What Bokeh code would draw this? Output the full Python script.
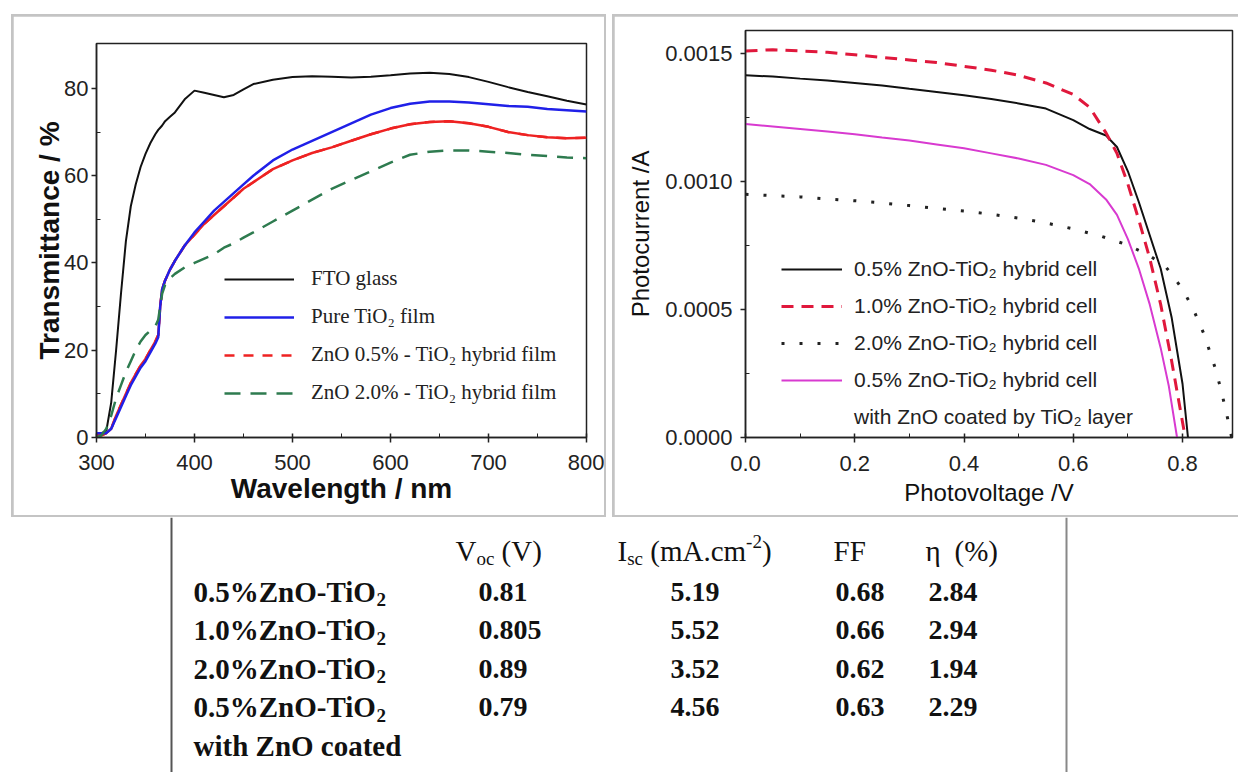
from bokeh.plotting import figure
from bokeh.layouts import column, row
from bokeh.models import (Range1d, ColumnDataSource, Legend, LegendItem, Span,
                          PrintfTickFormatter, FixedTicker)
from bokeh.core.properties import value
from bokeh.embed import file_html
from bokeh.resources import INLINE

# ---------------- data: transmittance spectra ----------------
wavelength = [300, 305, 310, 315, 320, 325, 330, 335, 340, 345, 350, 355, 360, 363, 365, 367,
              370, 375, 380, 390, 400, 410, 420, 430, 440, 450, 460, 480, 500, 520, 540, 560,
              580, 600, 620, 640, 660, 680, 700, 720, 740, 760, 780, 800]
t_fto = [1, 1, 1.5, 8, 20, 33, 45, 53, 58, 62, 65, 67.5, 69.5, 70.5, 71, 71.5,
         72.5, 73.5, 74.5, 77.5, 79.5, 79, 78.5, 78, 78.5, 79.8, 81, 82, 82.6, 82.8, 82.7, 82.5,
         82.7, 83, 83.4, 83.6, 83.3, 82.6, 81.5, 80.3, 79.2, 78.2, 77.2, 76.3]
t_tio2 = [1, 1, 1, 2, 4.5, 7, 9.5, 12, 14, 16, 17.5, 19.5, 21.5, 23, 30, 34,
          36, 38.5, 40.5, 44, 47, 49.5, 52, 54, 56, 58, 60, 63.5, 66, 68, 70, 72,
          74, 75.5, 76.5, 77, 77, 76.8, 76.4, 76, 75.8, 75.3, 75, 74.7]
t_zno05 = [0.5, 0.5, 1, 2, 5, 7.5, 10, 12.5, 14.5, 16.5, 18, 20, 22, 23.5, 30, 34,
           36, 38.5, 40.5, 44, 46.5, 49, 51, 53, 55, 57, 58.5, 61.5, 63.5, 65.2, 66.5, 68,
           69.5, 70.8, 71.8, 72.3, 72.5, 72, 71.2, 70, 69.3, 68.8, 68.6, 68.7]
t_zno20 = [0, 0.5, 2, 5, 9, 12, 15, 17.5, 20, 22, 23.5, 24.5, 25.5, 27, 30, 33,
           35, 36.5, 37.5, 39, 40, 41, 42, 43.5, 44.5, 45.8, 47, 49.5, 52, 54.5, 57, 59,
           61, 63, 64.8, 65.5, 65.8, 65.8, 65.5, 65.2, 64.8, 64.5, 64.2, 64]

# ---------------- data: I-V curves ----------------
v_05 = [0, 0.05, 0.1, 0.15, 0.2, 0.25, 0.3, 0.35, 0.4, 0.45, 0.5, 0.55, 0.6, 0.63, 0.66,
        0.68, 0.70, 0.72, 0.74, 0.76, 0.78, 0.79, 0.80, 0.81]
i_05 = [0.001415, 0.00141, 0.001402, 0.001395, 0.001385, 0.001375, 0.001362, 0.00135,
        0.001337, 0.001322, 0.001305, 0.001285, 0.00124, 0.001205, 0.00118, 0.001135,
        0.00104, 0.00092, 0.00079, 0.00066, 0.00047, 0.00034, 0.00021, 0.0]
v_10 = [0, 0.05, 0.1, 0.15, 0.2, 0.25, 0.3, 0.35, 0.4, 0.45, 0.5, 0.55, 0.6, 0.63, 0.66,
        0.68, 0.70, 0.72, 0.74, 0.76, 0.78, 0.79, 0.805]
i_10 = [0.00151, 0.001515, 0.00151, 0.001505, 0.001495, 0.001485, 0.001475, 0.001465,
        0.00145, 0.001435, 0.001415, 0.001385, 0.00134, 0.00129, 0.00119, 0.00111,
        0.00099, 0.00085, 0.00070, 0.00052, 0.00030, 0.00018, 0.0]
v_20 = [0, 0.05, 0.1, 0.15, 0.2, 0.25, 0.3, 0.35, 0.4, 0.45, 0.5, 0.55, 0.6, 0.65, 0.70,
        0.74, 0.77, 0.80, 0.82, 0.84, 0.86, 0.87, 0.88, 0.89]
i_20 = [0.00095, 0.000945, 0.00094, 0.000932, 0.000925, 0.000916, 0.000906, 0.000895,
        0.000885, 0.000872, 0.000857, 0.000838, 0.000815, 0.000787, 0.000752, 0.00071,
        0.000665, 0.00058, 0.0005, 0.0004, 0.00027, 0.00019, 0.0001, 0.0]
v_05c = [0, 0.05, 0.1, 0.15, 0.2, 0.25, 0.3, 0.35, 0.4, 0.45, 0.5, 0.55, 0.6, 0.63, 0.66,
         0.68, 0.70, 0.72, 0.74, 0.76, 0.775, 0.79]
i_05c = [0.001225, 0.001215, 0.001205, 0.001195, 0.001185, 0.001172, 0.00116, 0.001145,
         0.00113, 0.00111, 0.00109, 0.001065, 0.001025, 0.00099, 0.00093, 0.00087,
         0.000775, 0.00066, 0.00052, 0.00035, 0.0002, 0.0]

# ---------------- data: table ----------------
sample_base = ["0.5%ZnO-TiO", "1.0%ZnO-TiO", "2.0%ZnO-TiO", "0.5%ZnO-TiO"]
sample_sub = "2"
sample_extra = "with ZnO coated"
voc = [0.81, 0.805, 0.89, 0.79]
isc = [5.19, 5.52, 3.52, 4.56]
ff = [0.68, 0.66, 0.62, 0.63]
eff = [2.84, 2.94, 1.94, 2.29]

SANS = "Liberation Sans"
SERIF = "Liberation Serif"
PANEL_BORDER = "#c4c4c4"


def style_axis(ax, ticks, minor, label, label_size, label_style, tick_size,
               tick_in, label_standoff, tick_standoff):
    ax.ticker = FixedTicker(ticks=ticks, minor_ticks=minor)
    ax.axis_label = label
    ax.axis_label_text_font = SANS
    ax.axis_label_text_font_size = label_size
    ax.axis_label_text_font_style = label_style
    ax.axis_label_text_color = "#111111"
    ax.axis_label_standoff = label_standoff
    ax.major_label_text_font = SANS
    ax.major_label_text_font_size = tick_size
    ax.major_label_text_color = "#222222"
    ax.major_label_standoff = tick_standoff
    ax.major_tick_in = tick_in
    ax.major_tick_out = 5
    ax.minor_tick_in = 4
    ax.minor_tick_out = 0
    ax.axis_line_width = 1.5
    ax.major_tick_line_width = 1.5
    ax.axis_line_color = "#222222"
    ax.major_tick_line_color = "#222222"
    ax.minor_tick_line_color = "#222222"


# ---------------- left panel ----------------
p1 = figure(width=591, height=499, x_range=Range1d(300, 800), y_range=Range1d(0, 90.3),
            output_backend="svg", toolbar_location=None,
            min_border_left=83, min_border_right=18, min_border_top=27, min_border_bottom=78,
            margin=(2, 2, 2, 2))
p1.grid.visible = False
p1.outline_line_color = "#222222"
p1.outline_line_width = 1.5

r_fto = p1.line(wavelength, t_fto, line_color="#111111", line_width=2)
r_zno05_leg = p1.line(wavelength, t_zno05, line_color="#ee2222", line_width=2.5,
                      line_dash="10 9")
r_zno05 = p1.line(wavelength, t_zno05, line_color="#ee2222", line_width=2.5)
r_tio2 = p1.line(wavelength, t_tio2, line_color="#2020e8", line_width=2.5)
r_zno20 = p1.line(wavelength, t_zno20, line_color="#2e7b4f", line_width=2.5, line_dash="16 10")

style_axis(p1.xaxis[0], [300, 400, 500, 600, 700, 800], [350, 450, 550, 650, 750],
           "Wavelength / nm", "28px", "bold", "22px", 4, 0, 12)
style_axis(p1.yaxis[0], [0, 20, 40, 60, 80], [10, 30, 50, 70],
           "Transmittance / %", "28px", "bold", "22px", 0, -4, 3)

legend1 = Legend(items=[
    LegendItem(label="FTO glass", renderers=[r_fto]),
    LegendItem(label="Pure TiO\u2082 film", renderers=[r_tio2]),
    LegendItem(label="ZnO 0.5% - TiO\u2082 hybrid film", renderers=[r_zno05_leg]),
    LegendItem(label="ZnO 2.0% - TiO\u2082 hybrid film", renderers=[r_zno20]),
], location=(128, 32), label_text_font=SERIF, label_text_font_size="21px",
    label_text_color="#222222", glyph_width=70, glyph_height=24, label_height=24,
    label_standoff=17, spacing=13, padding=0, margin=0,
    border_line_alpha=0, background_fill_alpha=0)
p1.add_layout(legend1)

# ---------------- right panel ----------------
p2 = figure(width=624, height=499, x_range=Range1d(0, 0.8915), y_range=Range1d(0, 0.00159),
            output_backend="svg", toolbar_location=None,
            min_border_left=131, min_border_right=6, min_border_top=14, min_border_bottom=78,
            margin=(2, 0, 2, 2))
p2.grid.visible = False
p2.outline_line_color = "#222222"
p2.outline_line_width = 1.5

r_b = p2.line(v_05, i_05, line_color="#111111", line_width=2)
r_m = p2.line(v_05c, i_05c, line_color="#d83ad0", line_width=2)
r_r = p2.line(v_10, i_10, line_color="#e0183c", line_width=3, line_dash="12 8")
r_d = p2.line(v_20, i_20, line_color="#222222", line_width=3, line_dash="3 15")
r_blank = p2.line(v_05c, i_05c, line_alpha=0)

style_axis(p2.xaxis[0], [0, 0.2, 0.4, 0.6, 0.8], [0.1, 0.3, 0.5, 0.7],
           "Photovoltage /V", "24px", "normal", "22px", 4, 5, 13)
style_axis(p2.yaxis[0], [0, 0.0005, 0.001, 0.0015], [0.00025, 0.00075, 0.00125],
           "Photocurrent /A", "24px", "normal", "22px", 0, 8, 8)
p2.xaxis[0].formatter = PrintfTickFormatter(format="%.1f")
p2.yaxis[0].formatter = PrintfTickFormatter(format="%.4f")

legend2 = Legend(items=[
    LegendItem(label="0.5% ZnO-TiO\u2082 hybrid cell", renderers=[r_b]),
    LegendItem(label="1.0% ZnO-TiO\u2082 hybrid cell", renderers=[r_r]),
    LegendItem(label="2.0% ZnO-TiO\u2082 hybrid cell", renderers=[r_d]),
    LegendItem(label="0.5% ZnO-TiO\u2082 hybrid cell", renderers=[r_m]),
    LegendItem(label="with ZnO coated by TiO\u2082 layer", renderers=[r_blank]),
], location=(36, 8), label_text_font=SANS, label_text_font_size="21px",
    label_text_color="#222222", glyph_width=61, glyph_height=24, label_height=24,
    label_standoff=12, spacing=13, padding=0, margin=0,
    border_line_alpha=0, background_fill_alpha=0)
p2.add_layout(legend2)

box1 = column(p1, margin=(14, 0, 0, 11), styles={"background-color": PANEL_BORDER})
box2 = column(p2, margin=(14, 0, 0, 6), styles={"background-color": PANEL_BORDER})

# ---------------- table ----------------
TW, TH = 1238, 255
pt = figure(width=TW, height=TH, x_range=Range1d(0, TW), y_range=Range1d(0, TH),
            x_axis_type=None, y_axis_type=None, output_backend="svg",
            toolbar_location=None, min_border=0)
pt.grid.visible = False
pt.outline_line_color = None
pt.add_layout(Span(location=171, dimension="height", line_color="#555555", line_width=2))
pt.add_layout(Span(location=1066, dimension="height", line_color="#888888", line_width=2))

TR = {'V': .722, 'o': .5, 'c': .444, ' ': .25, '(': .333, ')': .333, 'I': .333, 's': .389,
      'm': .778, 'A': .722, '.': .25, '-': .333, '2': .5, 'F': .556, 'η': .5, '%': .833}
TB = {'.': .25, '%': 1.0, 'Z': .667, 'n': .556, 'O': .778, '-': .333, 'T': .667, 'i': .278,
      'w': .722, 't': .333, 'h': .556, ' ': .25, 'c': .444, 'o': .5, 'a': .5, 'e': .444,
      'd': .556}

SIZES = {("r", "m"): 29, ("r", "s"): 19, ("b", "m"): 28, ("b", "s"): 18, ("bl", "m"): 29,
         ("bl", "s"): 19}
groups = {}


def place_runs(x0, y0, runs, kind_font):
    x = x0
    table = TR if kind_font == "r" else TB
    for txt, kind in runs:
        size = SIZES[(kind_font, "m" if kind == "m" else "s")]
        dy = 0 if kind == "m" else (-8 if kind == "sub" else 9)
        lead = len(txt) - len(txt.lstrip(" "))
        x += lead * table[" "] * size
        body = txt.lstrip(" ")
        g = groups.setdefault((kind_font, size), dict(x=[], y=[], t=[]))
        g["x"].append(x)
        g["y"].append(y0 + dy)
        g["t"].append(body)
        x += sum(table.get(ch, 0.5) for ch in body) * size


header_y = 222
first_row_y = 181
row_pitch = 38.5
label_x = 193
col_x = [455, 617, 833, 925]
val_x = [478, 670, 835, 928]

header_runs = [
    [("V", "m"), ("oc", "sub"), (" (V)", "m")],
    [("I", "m"), ("sc", "sub"), (" (mA.cm", "m"), ("-2", "sup"), (")", "m")],
    [("FF", "m")],
    [("η", "m"), ("  (%)", "m")],
]
for cx, runs in zip(col_x, header_runs):
    place_runs(cx, header_y, runs, "r")

for k in range(len(sample_base)):
    y = first_row_y - k * row_pitch
    place_runs(label_x, y, [(sample_base[k], "m"), (sample_sub, "sub")], "bl")
    for cx, vals in zip(val_x, (voc, isc, ff, eff)):
        place_runs(cx, y, [(str(vals[k]), "m")], "b")
place_runs(label_x, first_row_y - len(sample_base) * row_pitch, [(sample_extra, "m")], "bl")

for (kf, size), g in groups.items():
    src = ColumnDataSource(g)
    pt.text(x="x", y="y", text="t", source=src, text_font=value(SERIF),
            text_font_size=value(f"{size}px"),
            text_font_style="normal" if kf == "r" else "bold",
            text_baseline="middle", text_align="left", text_color="#111111")

layout = column(row(box1, box2), pt)
open("out.html", "w").write(file_html(layout, INLINE))
